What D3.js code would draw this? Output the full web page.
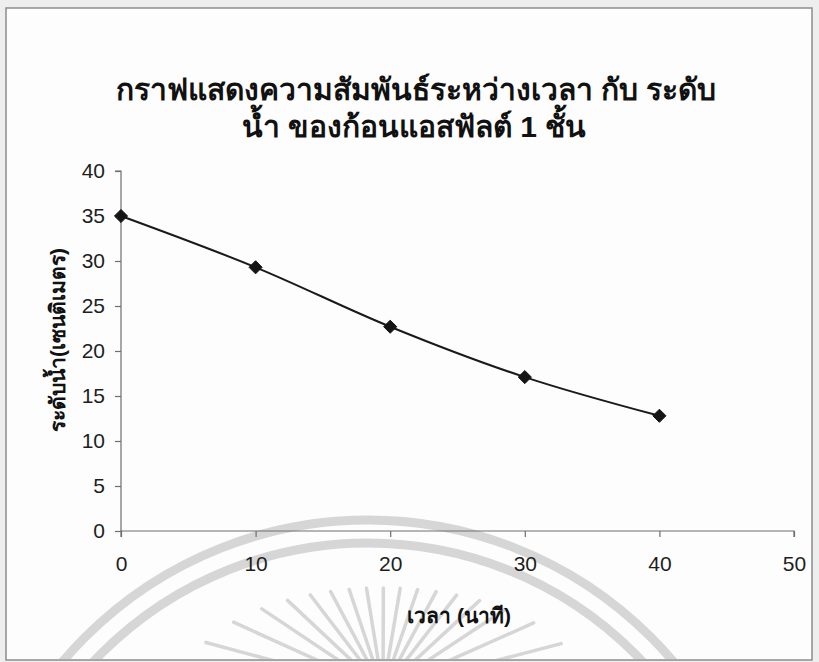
<!DOCTYPE html>
<html>
<head>
<meta charset="utf-8">
<script src="https://cdn.jsdelivr.net/npm/d3@7/dist/d3.min.js"></script>
<style>
  html, body { margin: 0; padding: 0; background: #eeeeee; }
  svg { display: block; }
  text { font-family: "Liberation Sans", Arial, sans-serif; }
</style>
</head>
<body>
<svg id="chart" width="819" height="662"></svg>
<script>
// Water level of a single asphalt block over time
const timeMinutes = [0, 10, 20, 30, 40];
const waterLevelCm = [35, 29.3, 22.7, 17.1, 12.8];
const xTicks = [0, 10, 20, 30, 40, 50];
const yTicks = [0, 5, 10, 15, 20, 25, 30, 35, 40];
const titleLines = ["กราฟแสดงความสัมพันธ์ระหว่างเวลา กับ ระดับ", "น้ำ ของก้อนแอสฟัลต์ 1 ชั้น"];
const xTitle = "เวลา (นาที)";
const yTitle = "ระดับน้ำ(เซนติเมตร)";

const svg = d3.select("#chart");

// page frame
svg.append("rect").attr("x", 6).attr("y", 8).attr("width", 806).attr("height", 652)
  .attr("fill", "#fdfdfd").attr("stroke", "#8c8c8c").attr("stroke-width", 1.5);

// faint emblem in the background
svg.append("clipPath").attr("id", "frameClip").append("rect")
  .attr("x", 7).attr("y", 9).attr("width", 804).attr("height", 650);
const emblem = svg.append("g").attr("fill", "none").attr("stroke", "#d6d6d6")
  .attr("clip-path", "url(#frameClip)");
[400, 377].forEach(r => {
  emblem.append("circle").attr("cx", 368).attr("cy", 920).attr("r", r).attr("stroke-width", 9);
});
const rayC = { x: 383, y: 690 };
d3.range(-165, -14, 9.4).forEach(deg => {
  const a = deg * Math.PI / 180;
  const ex = Math.cos(a), ey = Math.sin(a);
  const rOut = 1 / Math.sqrt((ex / 200) ** 2 + (ey / 102) ** 2);
  const rIn = 1 / Math.sqrt((ex / 95) ** 2 + (ey / 25) ** 2);
  emblem.append("line")
    .attr("x1", rayC.x + ex * rIn).attr("y1", rayC.y + ey * rIn)
    .attr("x2", rayC.x + ex * rOut).attr("y2", rayC.y + ey * rOut)
    .attr("stroke-width", 3.5).attr("stroke-linecap", "round");
});

// scales
const x = d3.scaleLinear().domain([0, 50]).range([121, 794]);
const y = d3.scaleLinear().domain([0, 40]).range([531, 171]);

// title
const title = svg.append("text").attr("text-anchor", "middle")
  .attr("font-weight", "bold").attr("font-size", 30).attr("fill", "#111");
title.append("tspan").attr("x", 416).attr("y", 100).text(titleLines[0]);
title.append("tspan").attr("x", 414).attr("y", 137).text(titleLines[1]);

// axes
const axisColor = "#6e6e6e";
const yAxis = svg.append("g").attr("transform", `translate(${x(0)},0)`)
  .call(d3.axisLeft(y).tickValues(yTicks).tickSize(6).tickPadding(10));
const xAxis = svg.append("g").attr("transform", `translate(0,${y(0)})`)
  .call(d3.axisBottom(x).tickValues(xTicks).tickSize(6).tickPadding(19));
[xAxis, yAxis].forEach(g => {
  g.select(".domain").attr("stroke", axisColor).attr("stroke-width", 1.2);
  g.selectAll(".tick line").attr("stroke", axisColor).attr("stroke-width", 1.2);
  g.selectAll(".tick text").attr("font-size", 21).attr("fill", "#1e1e1e")
    .attr("font-family", "'Liberation Sans', Arial, sans-serif");
});
xAxis.select(".domain").attr("d", `M${x(0)},6V0H${x(50)}V6`);
yAxis.select(".domain").attr("d", `M-6,${y(40)}H0V${y(0)}`);

// axis titles
svg.append("text").attr("x", 459).attr("y", 623).attr("text-anchor", "middle")
  .attr("font-weight", "bold").attr("font-size", 21).attr("fill", "#111").text(xTitle);
svg.append("text").attr("transform", "translate(65,340) rotate(-90)").attr("text-anchor", "middle")
  .attr("font-weight", "bold").attr("font-size", 21).attr("fill", "#111").text(yTitle);

// smoothed series line
const pts = timeMinutes.map((t, i) => [t, waterLevelCm[i]]);
const line = d3.line().x(d => x(d[0])).y(d => y(d[1])).curve(d3.curveCatmullRom.alpha(0));
svg.append("path").datum(pts).attr("d", line).attr("fill", "none")
  .attr("stroke", "#1a1a1a").attr("stroke-width", 2);

// diamond markers
svg.selectAll(".marker").data(pts).join("path").attr("class", "marker")
  .attr("transform", d => `translate(${x(d[0])},${y(d[1])})`)
  .attr("d", d3.symbol(d3.symbolDiamond2, 110)())
  .attr("fill", "#151515").attr("stroke", "#151515").attr("stroke-width", 1);
</script>
</body>
</html>
